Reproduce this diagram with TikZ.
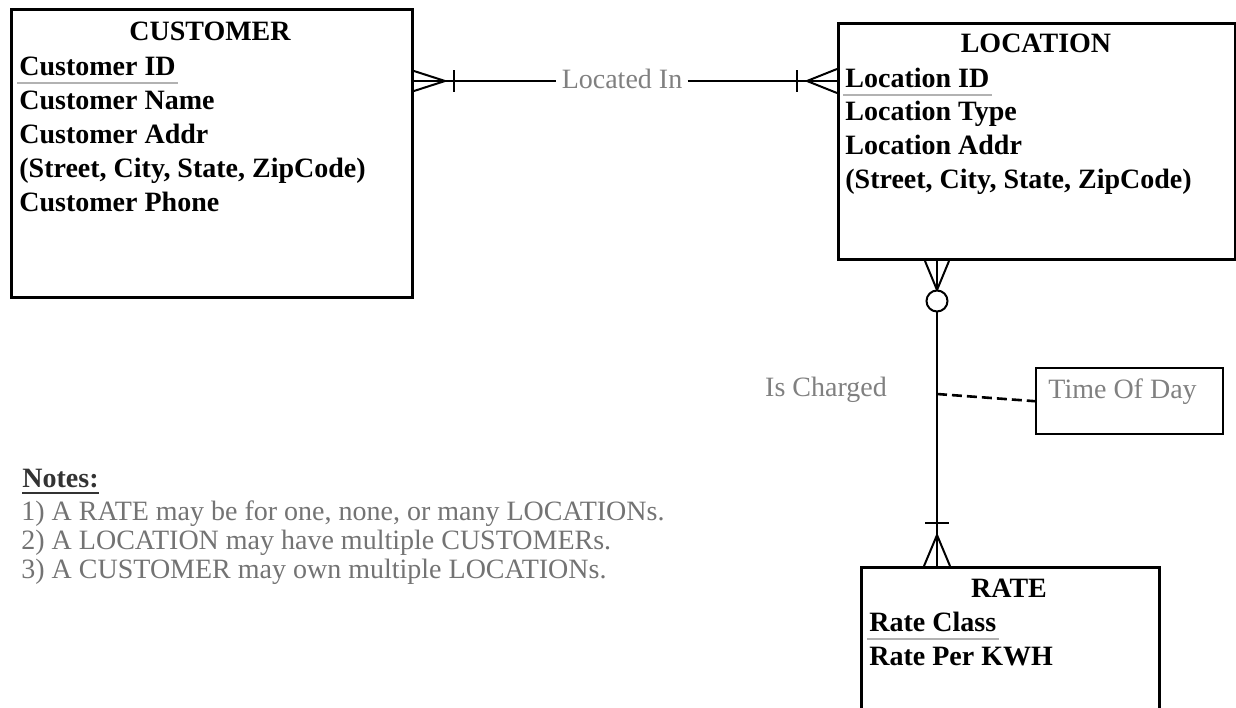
\documentclass[tikz,border=0pt]{standalone}
\usepackage{fontspec}
\setmainfont{Liberation Serif}
\usetikzlibrary{positioning}
\definecolor{labelgray}{gray}{0.5}
\definecolor{notegray}{gray}{0.45}
\definecolor{keygray}{gray}{0.7}
\definecolor{notehead}{gray}{0.2}

\begin{document}
\begin{tikzpicture}[x=0.5pt, y=-0.5pt,
    entity/.style={draw, line width=1.5pt, anchor=north west, inner sep=0pt},
    enttitle/.style={anchor=base, inner sep=1pt, font=\bfseries\fontsize{14}{17}\selectfont},
    attr/.style={anchor=base west, inner sep=1pt, font=\bfseries\fontsize{14}{17}\selectfont},
    keyline/.style={draw=keygray, line width=1pt},
    rel/.style={line width=1pt},
    rellabel/.style={anchor=base, inner xsep=2.5pt, inner ysep=0pt, text=labelgray,
      font=\fontsize{14}{17}\selectfont},
    note/.style={anchor=base west, inner sep=0pt, text=notegray, font=\fontsize{14}{17}\selectfont}]
  \useasboundingbox (0,0) rectangle (1236,707);

  % CUSTOMER
  \node[entity, minimum width=200.5pt, minimum height=144pt] (cust) at (10,8) {};
  \node[enttitle] (custT) at (210,40) {CUSTOMER};
  \node[attr] (custK) at (17,75) {Customer ID};
  \draw[keyline] ([yshift=-4pt]custK.base west) -- ([yshift=-4pt]custK.base east);
  \foreach \t [count=\i] in {Customer Name, Customer Addr, {(Street, City, State, ZipCode)}, Customer Phone}
    \node[attr] (cust\i) at (17,75+34*\i) {\t};

  % LOCATION
  \node[entity, minimum width=198.5pt, minimum height=118pt] (loc) at (837,22) {};
  \node[enttitle] (locT) at (1036,52) {LOCATION};
  \node[attr] (locK) at (843,87) {Location ID};
  \draw[keyline] ([yshift=-4pt]locK.base west) -- ([yshift=-4pt]locK.base east);
  \foreach \t [count=\i] in {Location Type, Location Addr, {(Street, City, State, ZipCode)}}
    \node[attr] (loc\i) at (843,87+33.7*\i) {\t};

  % RATE
  \node[entity, minimum width=149pt, minimum height=85pt] (rate) at (860,566) {};
  \node[enttitle] (rateT) at (1009,597) {RATE};
  \node[attr] (rateK) at (867,631) {Rate Class};
  \draw[keyline] ([yshift=-4pt]rateK.base west) -- ([yshift=-4pt]rateK.base east);
  \node[attr] (rate1) at (867,665) {Rate Per KWH};

  % Located In
  \coordinate (li) at (622,81);
  \node[rellabel] (locin) at (622,88) {Located In};
  \draw[rel] (cust.east |- li) -- (locin.west |- li);
  \draw[rel] (locin.east |- li) -- (loc.west |- li);
  \draw[rel] (cust.east |- li) ++(0,-10) -- ++(31,10) -- ++(-31,10);
  \draw[rel] (cust.east |- li) ++(40,-11) -- ++(0,22);
  \draw[rel] (loc.west |- li) ++(0,-12) -- ++(-30,12) -- ++(30,12);
  \draw[rel] (loc.west |- li) ++(-40,-11) -- ++(0,22);

  % Is Charged
  \coordinate (ch) at (937,394);
  \draw[rel] (ch |- loc.south) -- (ch |- rate.north);
  \draw[rel] (ch |- loc.south) ++(-12,0) -- ++(12,29) -- ++(12,-29);
  \node[draw, circle, fill=white, line width=1pt, minimum size=10.5pt, inner sep=0pt] (opt) at (937,301) {};
  \draw[rel] (ch |- rate.north) ++(-12,-43) -- ++(24,0);
  \draw[rel] (ch |- rate.north) ++(-13,0) -- ++(13,-31) -- ++(13,31);
  \node[rellabel] (chg) at (826,396) {Is Charged};

  % Time Of Day
  \node[entity, line width=1.2pt, minimum width=93.5pt, minimum height=33pt] (tod) at (1035,367) {};
  \node[rellabel, anchor=base west] (todT) at (1043,398) {Time Of Day};
  \draw[rel, line width=1.3pt, dash pattern=on 5pt off 2.5pt] (ch) -- (tod.west);

  % Notes
  \node[anchor=base west, inner sep=0pt, text=notehead, font=\bfseries\fontsize{14}{17}\selectfont]
    (notesT) at (22,487) {Notes:};
  \draw[line width=1pt, draw=notehead] ([yshift=-3pt]notesT.base west) -- ([yshift=-3pt]notesT.base east);
  \foreach \t [count=\i] in {{1) A RATE may be for one, none, or many LOCATIONs.},
      {2) A LOCATION may have multiple CUSTOMERs.}, {3) A CUSTOMER may own multiple LOCATIONs.}}
    \node[note] (note\i) at (21,491+29*\i) {\t};
\end{tikzpicture}
\end{document}
